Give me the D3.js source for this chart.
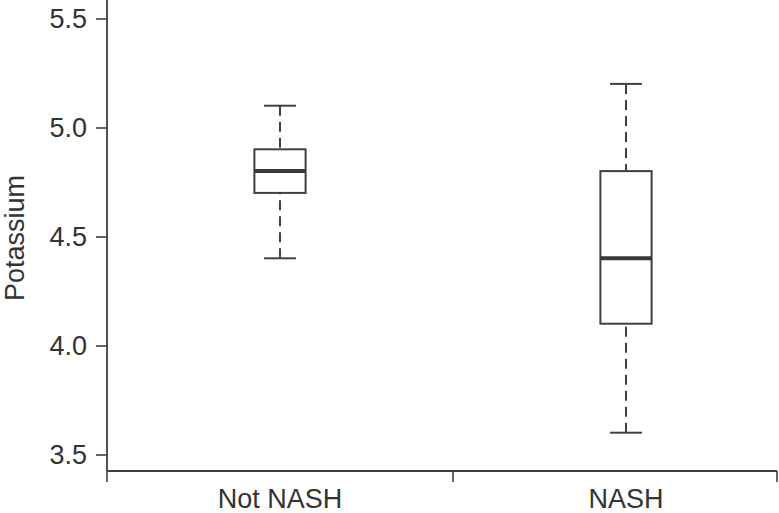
<!DOCTYPE html>
<html>
<head>
<meta charset="utf-8">
<script src="https://cdn.jsdelivr.net/npm/d3@7/dist/d3.min.js"></script>
<style>
  html, body { margin: 0; padding: 0; background: #fff; }
  svg { display: block; }
  text { font-family: "Liberation Sans", Arial, Helvetica, sans-serif; fill: #333; }
</style>
</head>
<body>
<script>
// ---- data ----
const categories = ["Not NASH", "NASH"];
const whiskerLow  = [4.4, 3.6];
const q1          = [4.7, 4.1];
const median      = [4.8, 4.4];
const q3          = [4.9, 4.8];
const whiskerHigh = [5.1, 5.2];
const yTicks = [3.5, 4.0, 4.5, 5.0, 5.5];
const yLabel = "Potassium";

// ---- layout ----
const W = 779, H = 513;
const axisX = 107, axisY = 471, plotRight = 777;
const ink = "#404040";

const svg = d3.select("body").append("svg").attr("width", W).attr("height", H);

const y = d3.scaleLinear().domain([3.5, 5.5]).range([454.5, 18.5]);
const x = d3.scaleBand().domain(categories).range([axisX, 799]).paddingInner(0).paddingOuter(0);
const boxW = x.bandwidth() * 0.148;
const capW = x.bandwidth() * 0.046;

// y axis
const gy = svg.append("g").attr("transform", `translate(${axisX},0)`)
  .call(d3.axisLeft(y).tickValues(yTicks).tickFormat(d3.format(".1f")).tickSize(11).tickPadding(9));
gy.select(".domain").remove();
gy.selectAll(".tick line").attr("stroke", ink).attr("stroke-width", 1.6);
gy.selectAll(".tick text").attr("font-size", 27).style("fill", "#333")
  .attr("font-family", "'Liberation Sans', Arial, sans-serif");
svg.append("line").attr("x1", axisX).attr("x2", axisX).attr("y1", 0).attr("y2", axisY)
  .attr("stroke", ink).attr("stroke-width", 1.8);

// x axis
svg.append("line").attr("x1", axisX).attr("x2", plotRight).attr("y1", axisY).attr("y2", axisY)
  .attr("stroke", ink).attr("stroke-width", 1.8);
const xTickPos = categories.map(c => x(c)).concat([Math.min(x.range()[1], plotRight)]);
svg.selectAll(".xtick").data(xTickPos).join("line")
  .attr("x1", d => d).attr("x2", d => d).attr("y1", axisY).attr("y2", axisY + 11)
  .attr("stroke", ink).attr("stroke-width", 1.6);
svg.selectAll(".xlab").data(categories).join("text")
  .attr("x", d => x(d) + x.bandwidth() / 2).attr("y", 508)
  .attr("text-anchor", "middle").attr("font-size", 27).text(d => d);

// y label
svg.append("text").attr("transform", `translate(24,238) rotate(-90)`)
  .attr("text-anchor", "middle").attr("font-size", 27).text(yLabel);

// boxes
const groups = svg.selectAll(".box").data(categories).join("g")
  .attr("transform", d => `translate(${x(d) + x.bandwidth() / 2},0)`);

// whiskers (dashed), drawn from cap toward box
groups.append("line")
  .attr("x1", 0).attr("x2", 0)
  .attr("y1", (d, i) => y(whiskerHigh[i])).attr("y2", (d, i) => y(q3[i]))
  .attr("stroke", ink).attr("stroke-width", 2).attr("stroke-dasharray", "10,6");
groups.append("line")
  .attr("x1", 0).attr("x2", 0)
  .attr("y1", (d, i) => y(whiskerLow[i])).attr("y2", (d, i) => y(q1[i]))
  .attr("stroke", ink).attr("stroke-width", 2).attr("stroke-dasharray", "10,6");
// caps
groups.append("line")
  .attr("x1", -capW).attr("x2", capW)
  .attr("y1", (d, i) => y(whiskerHigh[i])).attr("y2", (d, i) => y(whiskerHigh[i]))
  .attr("stroke", ink).attr("stroke-width", 2);
groups.append("line")
  .attr("x1", -capW).attr("x2", capW)
  .attr("y1", (d, i) => y(whiskerLow[i])).attr("y2", (d, i) => y(whiskerLow[i]))
  .attr("stroke", ink).attr("stroke-width", 2);
// box
groups.append("rect")
  .attr("x", -boxW / 2).attr("width", boxW)
  .attr("y", (d, i) => y(q3[i])).attr("height", (d, i) => y(q1[i]) - y(q3[i]))
  .attr("fill", "#fff").attr("stroke", ink).attr("stroke-width", 2);
// median
groups.append("line")
  .attr("x1", -boxW / 2).attr("x2", boxW / 2)
  .attr("y1", (d, i) => y(median[i])).attr("y2", (d, i) => y(median[i]))
  .attr("stroke", "#383838").attr("stroke-width", 4);
</script>
</body>
</html>
